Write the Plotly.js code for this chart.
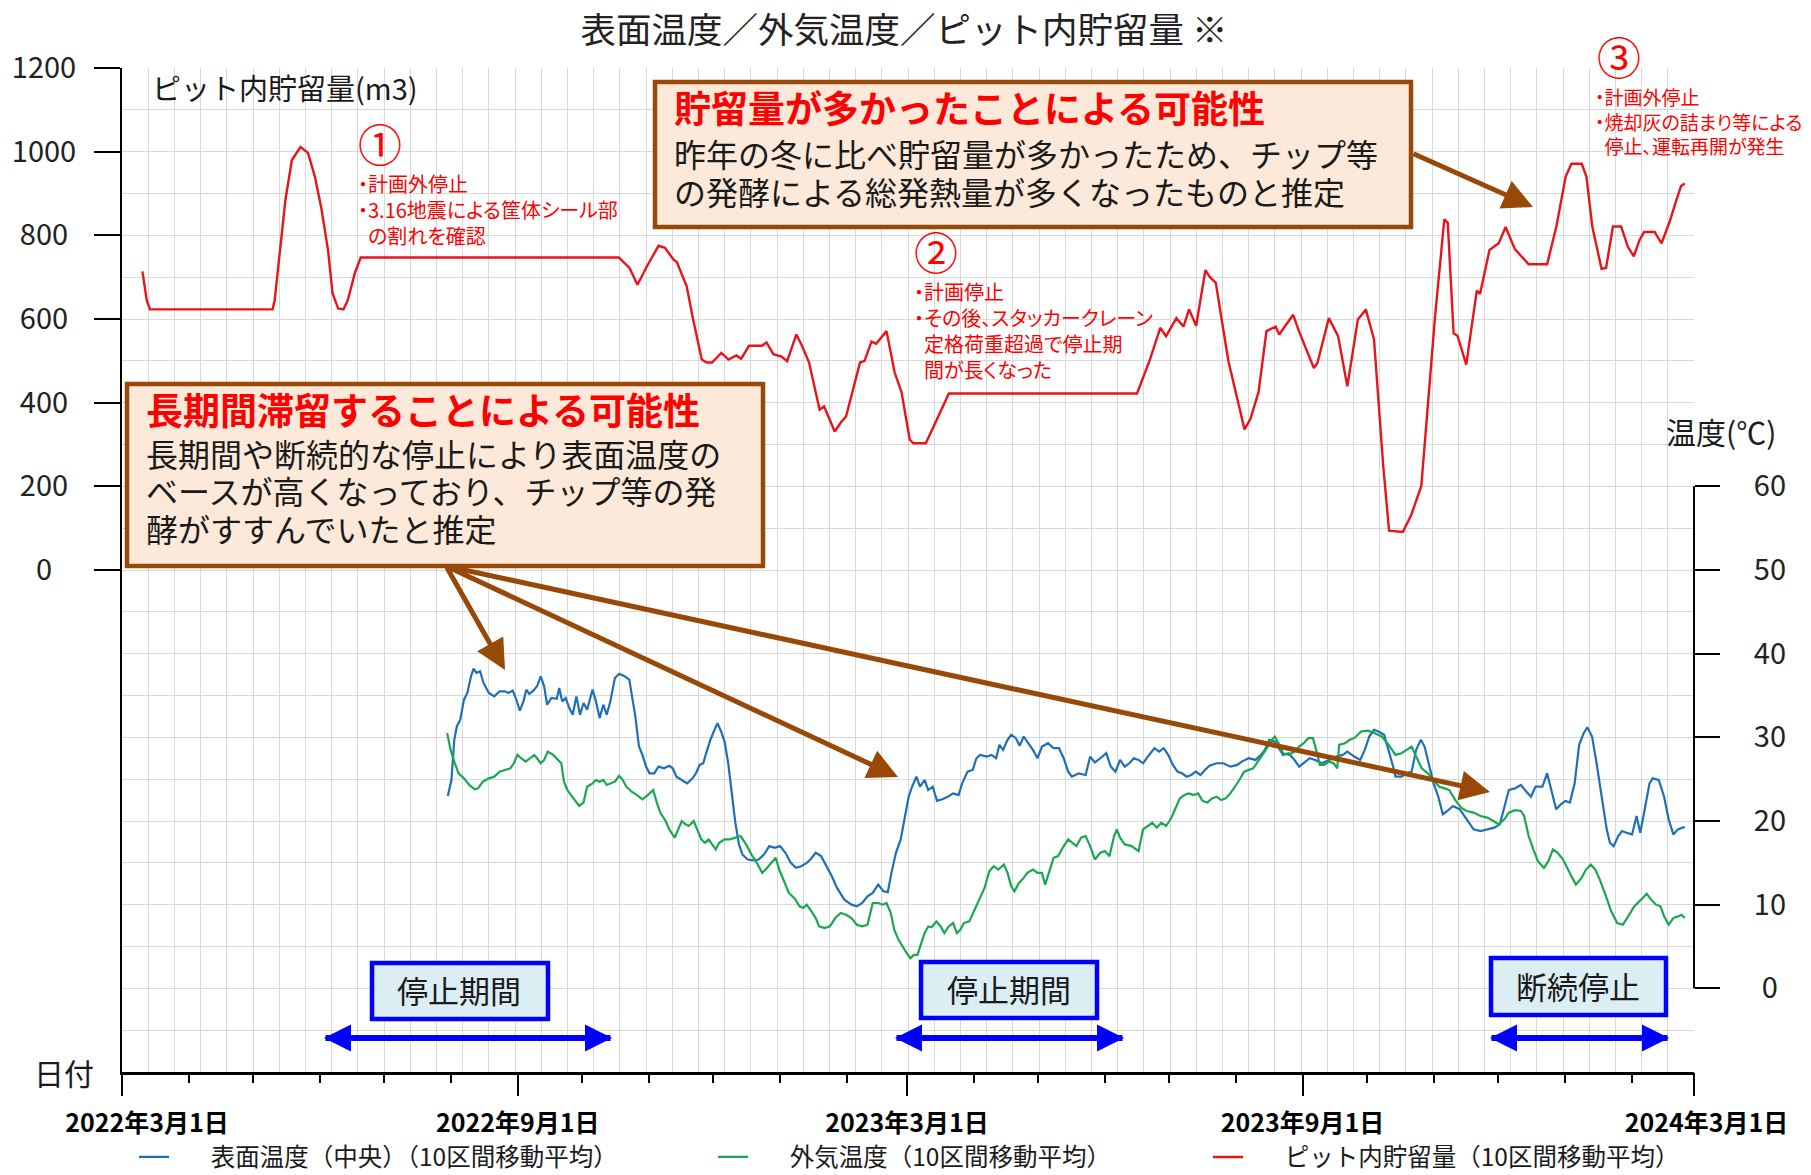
<!DOCTYPE html>
<html><head><meta charset="utf-8">
<script src="https://cdn.plot.ly/plotly-3.0.1.min.js"></script>
<style>
html,body{margin:0;padding:0;background:#fff;}
.annotation[data-index="0"] text,.annotation[data-index="1"] text,.annotation[data-index="2"] text{font-feature-settings:"palt" 1;}
</style>
</head><body>
<div id="chart" style="width:1811px;height:1175px;"></div>
<script>
// ---------------- data ----------------
// x values are days counted from 2022-03-01
const BASE_DATE = '2022-03-01';
const END_DATE = '2024-03-01';
const xTickDates = ['2022-03-01','2022-09-01','2023-03-01','2023-09-01','2024-03-01'];
const xTickLabels = ['2022年3月1日','2022年9月1日','2023年3月1日','2023年9月1日','2024年3月1日'];
const yTickVals = [0,200,400,600,800,1000,1200];
const yTickLabels = ['0','200','400','600','800','1000','1200'];
const y2TickVals = [0,10,20,30,40,50,60];
const y2TickLabels = ['0','10','20','30','40','50','60'];

const seriesNames = ['表面温度（中央）（10区間移動平均）','外気温度（10区間移動平均）','ピット内貯留量（10区間移動平均）'];

// ピット内貯留量 (m3)
const storageDay = [9.5,10.5,11.5,13,70,71,73.5,76,79,83,86.5,89.7,92.6,95.8,97.9,100.5,103,105,108.3,111,231,236,239.7,244,249.5,252.5,256.5,258,262.6,265.3,269.6,271.8,274.4,278.7,282,285.7,287.9,291.6,297.5,299.7,302.9,306.7,309.3,313.6,316.3,319.5,324.4,326.5,331.4,334.6,336.7,343.2,345.3,348.5,350.7,355.5,359.3,362.5,366.3,368,373.8,384.5,472,478,482.8,485.5,490.3,493.6,496.2,499.5,503.8,505.9,508.6,514.5,522,524.7,528.5,532.2,536.5,538.1,544.6,547.3,554.2,555.9,561.2,565.5,569.8,574.7,578.4,582.2,586.5,589.2,595.6,599.4,604.2,607.4,610.6,614.9,616.5,619.2,621,625.1,630,631.5,635.9,640.2,643.4,647.7,654.1,662.7,667,671.3,674,678.8,681,683.7,688,690.1,693.3,697.1,700.3,703,705.7,707.8,712.7,715.9,719.7,722.9,725,726.7];
const storageVal = [714,680,645,623,623,645,760,885,980,1011,997,940,868,765,662,625,623,645,710,747,747,722,682,725,775,770,742,736,678,606,503,496,496,519,503,513,505,536,536,544,516,510,499,563,535,496,383,391,331,355,367,496,500,546,541,571,472,425,312,303,303,422,422,503,579,559,602,582,623,584,717,700,687,499,336,361,425,571,582,563,610,571,483,495,602,559,439,599,623,551,248,94,91,130,201,408,607,838,830,566,560,491,668,660,765,781,820,767,731,731,821,940,971,971,940,821,720,722,821,821,772,750,789,808,808,781,833,886,918,924];

// 表面温度（中央） (℃)
const surfaceDay = [151.5,153.2,154.5,155.7,157.3,159,160.6,162.3,163.5,164.8,166.5,168.1,170.6,173.1,175.6,178.1,179.7,181.7,183.1,185,186.7,188,189.4,191.4,193,194.7,196.3,197.7,199.7,202.2,203.3,204.7,206.3,208,209.6,211.3,213,214.6,216.3,218.8,220.4,222.1,223.8,225.4,227.1,229.2,231.2,233.7,235.9,237,238.7,240.4,242,243.7,245.3,247.5,249.5,252,254.5,256.1,257.8,260.3,262.8,265.3,266.9,268.6,270.3,271.4,273.6,275.2,276.9,278.6,280.2,281.9,283.5,285.2,286.9,288.5,291,293.5,296,298.5,301,303.5,306,308.5,311,313.4,315.9,318.4,320.1,322.6,325.1,327.6,330.1,332.5,335.9,339.2,341.7,344.2,346.7,349.1,351.6,354.1,356.1,357.8,359.9,362.1,364.1,365.8,367.4,369.4,371.1,373.2,374.9,377,379,381.5,384,386.5,389,390.7,393.2,395.6,397.3,399,402.2,404.3,406.5,408,409.7,411.8,413.5,415.7,417.4,419.3,421.4,423.6,425.7,427.8,430.6,433.2,435.7,437.9,440,441.7,444.9,448.1,450.2,452.4,454.9,457.7,459.8,462,464.1,466.3,468.4,470.5,472.7,474.8,477,480.1,482.3,484.4,486.5,488.7,490.8,492.9,495.1,497.2,499.3,501.5,503.6,505.7,509,512.2,515.4,518.6,520.7,523.9,527.1,529.7,531.4,533.5,536.1,538.2,539.9,542.5,545.2,547.4,549.5,552.3,554.9,558,561.3,564.5,567.7,569.8,573,575.8,577.9,580,582.2,584.3,586.9,589,591.1,592.2,595,597.5,599.7,601.8,604,605.7,607.8,609.9,612.1,614.2,616.3,618.9,622.1,625.3,628.5,631.7,634.9,638.1,640.7,642.8,644.9,647.7,650.5,653.1,655.2,657.3,660.5,662.7,664.8,666.9,669.1,671.2,673.3,675.5,677.6,679.7,681.4,683.6,685.7,688.3,690.4,691.9,693.6,695.8,697.5,699.6,702.2,704.3,706,708.1,710.3,711.8,714.6,717.1,719.2,721.4,723.5,726.7];
const surfaceVal = [23.0,24.9,29.7,31.3,32.1,34.5,35.3,37.3,38.2,37.7,37.9,36.5,35.3,34.9,35.5,35.5,35.3,35.6,34.7,33.2,34.3,35.7,35.2,35.6,36.1,37.3,36.1,33.9,34.7,34.6,35.9,34.3,34.7,33.5,32.7,34.9,32.7,34.1,33.3,35.7,34.3,32.3,33.9,32.7,34.3,37.1,37.6,37.3,36.9,35.3,32.5,28.9,27.9,26.5,25.7,25.7,26.5,26.3,26.6,26.3,25.3,24.9,24.5,25.1,25.7,26.7,26.9,27.9,29.7,30.7,31.7,30.7,29.5,26.9,23.7,19.8,17.2,16.0,15.4,15.3,15.4,16.0,17.0,16.8,17.0,16.2,15.0,14.4,14.6,15.0,15.4,16.2,15.8,14.6,13.4,12.0,10.6,10.0,9.8,10.2,11.0,11.4,12.4,11.6,11.5,13.8,16.2,17.8,20.6,22.9,24.1,25.3,24.1,24.9,23.7,24.1,22.4,22.6,22.9,23.3,23.1,24.5,25.9,26.1,27.5,27.9,27.7,27.9,27.5,29.1,28.5,29.7,30.3,29.9,29.0,30.1,29.3,28.5,27.5,28.9,29.3,28.7,28.7,27.5,25.9,25.3,25.7,25.5,27.7,27.0,27.5,28.1,26.5,25.9,27.3,26.5,26.9,27.5,27.3,26.9,27.7,28.7,28.3,28.7,27.9,26.7,25.9,25.7,25.3,25.5,25.9,25.5,26.1,26.6,26.9,26.9,26.5,26.7,27.1,27.5,27.3,27.9,28.5,29.7,29.5,28.7,27.9,28.1,27.3,26.5,26.9,27.5,27.3,26.9,27.3,27.7,27.9,28.3,27.7,27.3,28.5,30.1,30.9,30.7,30.3,28.5,26.5,25.3,25.3,25.7,25.9,28.5,29.7,28.9,26.5,24.5,22.9,20.8,21.2,21.8,21.4,20.2,19.0,18.8,19.0,19.2,19.6,21.8,23.7,23.9,24.3,23.5,22.9,24.1,24.1,25.7,23.7,21.4,22.0,22.4,22.2,24.5,29.1,30.5,31.2,30.1,26.9,22.5,19.0,17.4,17.0,18.2,18.8,18.6,18.4,20.6,18.6,21.4,24.5,25.1,24.9,22.9,20.2,18.4,19.0,19.3];

// 外気温度 (℃)
const outdoorDay = [151.2,152.8,154.8,156.5,159,161.5,164,165.6,167.8,170.6,173.1,175.6,178.1,180.6,182.2,183.9,185.6,187.7,189.7,191.7,193,194.7,196.3,198,200.5,202.2,204.3,205.5,207.1,208.8,210.5,212.6,214.6,216.3,218.8,220.4,222.1,223.8,225.4,227.1,229.2,231.2,232.9,234.5,237,239.5,242,244.5,247,248.7,250.3,252.8,254.5,257,258.6,260.3,262,263.6,265.8,267.4,269.4,271.1,272.8,274.4,276.1,277.7,280.2,282.7,285.2,287.7,290.2,292.7,295.2,297.7,299.3,301.8,304,305.6,307.6,310.1,312.6,315.1,316.8,318.4,320.6,322.6,324.2,326.7,329.2,331.7,334.2,336.7,339.2,341.7,344.2,346.7,349.1,351.6,353.8,355.5,357.5,359.1,361.1,363.3,364.9,366.6,368.2,369.9,371.6,373.2,374.9,376.5,378.7,380.7,382.4,384.4,386.5,388.2,389.8,391.5,394,396.5,399,401.1,403.3,405.4,407.5,410.1,411.8,413.5,415,417.1,419.3,421,423.6,425.7,427.8,429.3,431,433.2,435.3,437.4,440,441.7,443.8,446,448.1,450.2,452.4,454.9,457.1,459.2,461.3,462.6,464.1,466.3,469.5,472.7,474.8,477,479.1,481.2,483.3,485.5,487.6,489.7,491.9,494,496.1,498.3,500.4,502.5,504.7,506.8,509,511.1,513.2,515.4,517.5,519.6,521.8,523.9,526,528.2,530.3,532.4,534.6,536.1,537.8,539.9,542.5,545.2,547.4,549.5,551.6,553.8,555.3,557,559.1,561.3,563.4,565.1,566,568.7,570.9,573,576.2,579.4,582.6,585.8,589,592.2,595,597.5,599.7,601.8,604.4,607.2,609.9,612.5,615.1,617.2,620,622.7,625.3,628.5,631.7,634.9,637.7,640.2,642.8,644.9,647.7,650.5,652,654.1,656.3,658.4,661.2,663.3,665.4,667.6,670.1,672.3,674.4,676.1,678.7,680.8,683,685.1,687.2,689.8,692.5,695.3,697.9,700.4,703.2,706.4,709,711.1,713.3,715.4,717.1,719.2,721.4,723.5,725.2,726.7];
const outdoorVal = [30.5,28.5,26.9,25.7,25.1,24.3,23.8,23.9,24.7,25.1,25.3,25.9,26.1,26.3,26.9,27.9,27.5,27.1,27.5,27.9,27.5,26.9,27.3,28.3,27.9,27.5,26.9,24.7,23.7,23.1,22.5,21.8,22.2,24.1,24.5,24.9,24.7,24.9,24.3,24.5,24.7,25.4,24.9,24.1,23.5,23.1,22.6,23.1,23.7,22.2,21.0,20.0,19.0,18.0,19.0,20.0,19.6,19.4,20.0,19.0,17.8,17.4,17.8,17.2,16.6,17.4,17.8,17.8,18.0,18.2,17.2,16.0,15.0,13.8,14.2,15.0,15.6,14.2,13.0,11.4,10.8,9.8,9.6,10.0,9.2,8.4,7.4,7.2,7.4,8.4,9.0,8.8,8.4,7.6,7.4,7.6,10.2,10.2,10.0,10.2,9.0,7.0,5.8,4.8,4.2,3.6,4.0,4.0,5.4,6.6,7.4,7.3,8.0,7.4,6.6,7.4,7.8,6.6,7.0,7.8,8.0,9.4,10.8,12.0,14.0,14.6,14.2,14.8,13.8,12.2,11.6,12.6,13.2,13.8,14.2,13.8,13.8,12.4,13.8,15.6,15.8,16.8,17.8,17.4,17.0,18.0,18.2,17.0,15.4,16.2,16.4,15.8,18.2,19.0,18.0,17.2,17.0,16.4,19.0,19.4,19.8,19.2,19.8,19.4,20.2,21.4,22.7,23.1,23.3,23.1,23.3,22.4,22.2,22.7,22.9,22.5,22.7,23.3,24.1,24.9,25.9,26.1,26.3,27.1,27.9,28.7,29.7,30.1,29.3,28.1,27.9,28.3,28.9,29.3,29.9,29.9,28.5,26.7,26.7,27.1,26.9,26.3,29.1,29.3,29.7,29.9,30.7,30.8,30.5,30.1,29.1,27.9,28.1,28.5,28.9,27.7,26.3,25.7,24.9,24.1,23.9,23.7,22.5,21.6,21.2,21.0,20.6,20.4,20.0,19.6,20.2,21.0,21.3,21.2,20.6,18.2,16.6,15.2,14.4,15.2,16.6,16.2,15.4,14.2,13.2,12.4,13.2,14.2,14.8,14.2,13.0,11.2,9.2,7.8,7.6,8.6,9.8,10.6,11.3,10.6,10.0,9.8,8.6,7.6,8.4,8.6,8.8,8.4];

// ---------------- helpers ----------------
const BASE_MS = Date.parse(BASE_DATE + 'T00:00:00Z');
const END_MS = Date.parse(END_DATE + 'T00:00:00Z');
function dayToDate(d){ return new Date(BASE_MS + d*86400000).toISOString().slice(0,19).replace('T',' '); }
const monthTicks = [];
for (let y=2022, m=2; y<2024 || (y===2024 && m<=2); ) {
  monthTicks.push(new Date(Date.UTC(y,m,1)).toISOString().slice(0,10));
  m++; if (m>11){m=0;y++;}
}
const GRID_MS = (END_MS - BASE_MS)/60;

// pixel -> paper helpers (plot area: x 122..1694, y 68..1072)
const L=122, R=1694, T=68, B=1072;
const P = x => (x-L)/(R-L);
const Q = y => (B-y)/(B-T);

// tick label padding so that labels look centred like the original
const padY = s => s + (s.length===1 ? '\u2007\u2008' : s.length===3 ? '\u2008' : '');
const padY2 = s => (s.length===1 ? '\u2008' : '') + s;
const xLabels = xTickLabels.map((s,i)=> i===0 ? '\u3000\u3000'+s : (i===xTickLabels.length-1 ? '\u3000'+s : s));

const FONT = '"Noto Sans CJK JP", "Noto Sans", sans-serif';
const BROWN = '#984807', BLUEBOX = '#0000FF', RED = '#FF0000';
const LEG_PAD = '\u3000\u2002';

const traces = [
  {type:'scatter', mode:'lines', name:LEG_PAD+seriesNames[0], x:surfaceDay.map(dayToDate), y:surfaceVal,
   xaxis:'x2', yaxis:'y2', line:{color:'#1f6fb8', width:2.2}, legend:'legend', showlegend:true},
  {type:'scatter', mode:'lines', name:LEG_PAD+seriesNames[1], x:outdoorDay.map(dayToDate), y:outdoorVal,
   xaxis:'x2', yaxis:'y2', line:{color:'#19a850', width:2.2}, legend:'legend2', showlegend:true},
  {type:'scatter', mode:'lines', name:LEG_PAD+seriesNames[2], x:storageDay.map(dayToDate), y:storageVal,
   xaxis:'x', yaxis:'y', line:{color:'#e8141c', width:2.4}, legend:'legend3', showlegend:true}
];

function note(x,y,text,size){ return {xref:'paper',yref:'paper',x:P(x),y:Q(y),xanchor:'left',yanchor:'top',align:'left',showarrow:false,text:text,font:{size:size||20,color:RED}}; }
function txt(x,y,text,size,color,opts){ return Object.assign({xref:'paper',yref:'paper',x:P(x),y:Q(y),xanchor:'left',yanchor:'middle',showarrow:false,text:text,font:{size:size,color:color||'#1a1a1a'}}, opts||{}); }
function arrow(hx,hy,tx,ty,color,w,s){ return {xref:'paper',yref:'paper',x:P(hx),y:Q(hy),ax:tx-hx,ay:ty-hy,axref:'pixel',ayref:'pixel',text:'',showarrow:true,arrowhead:2,arrowsize:s,arrowwidth:w,arrowcolor:color,standoff:0,startstandoff:0}; }
const LINE_BOX = {height:37};

const annotations = [
  note(356,167,'・計画外停止<br>・3.16地震による筐体シール部<br>\u2002の割れを確認'),
  note(912,275,'・計画停止<br>・その後、スタッカークレーン<br>\u2002定格荷重超過で停止期<br>\u2002間が長くなった'),
  note(1593,81,'・計画外停止<br>・焼却灰の詰まり等による<br>\u2002停止、運転再開が発生',19),
  txt(380,143,'①',44,RED,{xanchor:'center'}),
  txt(936,251,'②',44,RED,{xanchor:'center'}),
  txt(1619,56,'③',44,RED,{xanchor:'center'}),
  txt(150,87,'ピット内貯留量(m3)',29,'#1a1a1a'),
  txt(1721,431,'温度(℃)',30,'#1a1a1a',{xanchor:'center'}),
  txt(64,1072,'日付',30,'#1a1a1a',{xanchor:'center'}),
  // box 1
  txt(672,107,'<b>貯留量が多かったことによる可能性</b>',37,RED),
  txt(672,152,'昨年の冬に比べ貯留量が多かったため、チップ等',32,null,LINE_BOX),
  txt(672,190,'の発酵による総発熱量が多くなったものと推定',32,null,LINE_BOX),
  // box 2
  txt(144,409,'<b>長期間滞留することによる可能性</b>',37,RED),
  txt(144,452,'長期間や断続的な停止により表面温度の',32,null,LINE_BOX),
  txt(144,490,'ベースが高くなっており、チップ等の発',32,null,LINE_BOX),
  txt(144,527,'酵がすすんでいたと推定',32,null,LINE_BOX),
  // blue boxes
  txt(459,989,'停止期間',31,'#1a1a1a',{xanchor:'center'}),
  txt(1009,988,'停止期間',31,'#1a1a1a',{xanchor:'center'}),
  txt(1578,985,'断続停止',31,'#1a1a1a',{xanchor:'center'}),
  // brown arrows
  arrow(1533,207,1412,153,BROWN,5,1.2),
  arrow(505,670,446,566,BROWN,5,1.2),
  arrow(898,777,446,566,BROWN,5,1.2),
  arrow(1490,792,446,566,BROWN,5,1.2),
  // blue double arrows (two overlapping single arrows)
  arrow(324,1038,612,1038,BLUEBOX,6,0.9),
  arrow(612,1038,324,1038,BLUEBOX,6,0.9),
  arrow(895,1038,1124,1038,BLUEBOX,6,0.9),
  arrow(1124,1038,895,1038,BLUEBOX,6,0.9),
  arrow(1490,1038,1669,1038,BLUEBOX,6,0.9),
  arrow(1669,1038,1490,1038,BLUEBOX,6,0.9)
];

function box(x0,y0,x1,y1,fill,color){ return {type:'rect',xref:'paper',yref:'paper',x0:P(x0),x1:P(x1),y0:Q(y1),y1:Q(y0),fillcolor:fill,line:{color:color,width:4.5},layer:'above'}; }
const shapes = [
  box(655,82,1411,227,'#FDE9D9',BROWN),
  box(127,384,763,566,'#FDE9D9',BROWN),
  box(372,963,548,1019,'#DAEEF3',BLUEBOX),
  box(921,962,1097,1018,'#DAEEF3',BLUEBOX),
  box(1491,958,1666,1015,'#DAEEF3',BLUEBOX),
  {type:'line',xref:'paper',yref:'y2',x0:1,x1:1,y0:0,y1:60,line:{color:'#000',width:2},layer:'above'}
];

const GRID = '#d9d9d9';
const legendBase = {orientation:'h', xanchor:'left', yanchor:'middle', y:Q(1157), bgcolor:'rgba(0,0,0,0)', font:{size:24.5,color:'#1a1a1a'}};

const layout = {
  width:1811, height:1175,
  margin:{l:L, r:1811-R, t:T, b:1175-B, autoexpand:false},
  paper_bgcolor:'#ffffff', plot_bgcolor:'#ffffff',
  font:{family:FONT, color:'#1a1a1a'},
  hovermode:false,
  showlegend:true,
  title:{text:'表面温度／外気温度／ピット内貯留量 ※', x:904/1811, xref:'container', xanchor:'center', y:1-31/1175, yref:'container', yanchor:'middle', font:{size:35.5,color:'#222'}},
  xaxis:{type:'date', range:[BASE_DATE, END_DATE], tickmode:'array', tickvals:xTickDates, ticktext:xLabels,
    ticks:'outside', ticklen:21, tickwidth:2, tickcolor:'#000', showline:true, linecolor:'#000', linewidth:2.5,
    showgrid:false, zeroline:false, tickfont:{size:25, weight:'bold', color:'#000'}, ticklabelstandoff:6,
    minor:{dtick:GRID_MS, tick0:BASE_DATE, showgrid:true, gridcolor:GRID, gridwidth:1, ticks:''}},
  xaxis2:{type:'date', range:[BASE_DATE, END_DATE], overlaying:'x', anchor:'y', side:'bottom', tickmode:'array', tickvals:monthTicks,
    ticks:'outside', ticklen:10, tickwidth:2, tickcolor:'#000', showticklabels:false, showgrid:false, showline:false, zeroline:false},
  yaxis:{range:[-1200,1200], tickmode:'array', tickvals:yTickVals, ticktext:yTickLabels.map(padY),
    ticks:'outside', ticklen:26, tickwidth:2, tickcolor:'#000', showline:true, linecolor:'#000', linewidth:2,
    showgrid:true, gridcolor:GRID, gridwidth:1, zeroline:false, tickfont:{size:29,color:'#222'}, ticklabelstandoff:12,
    minor:{dtick:100, tick0:0, showgrid:true, gridcolor:GRID, gridwidth:1, ticks:''}},
  yaxis2:{range:[-10,110], overlaying:'y', side:'right', anchor:'x2', tickmode:'array', tickvals:y2TickVals, ticktext:y2TickLabels.map(padY2),
    ticks:'outside', ticklen:25, tickwidth:2, tickcolor:'#000', showline:false, showgrid:false, zeroline:false,
    tickfont:{size:29,color:'#222'}, ticklabelstandoff:28},
  legend:Object.assign({}, legendBase, {x:P(134)}),
  legend2:Object.assign({}, legendBase, {x:P(713)}),
  legend3:Object.assign({}, legendBase, {x:P(1208)}),
  shapes:shapes,
  annotations:annotations
};

Plotly.newPlot('chart', traces, layout, {displayModeBar:false, responsive:false});
</script>
</body></html>
